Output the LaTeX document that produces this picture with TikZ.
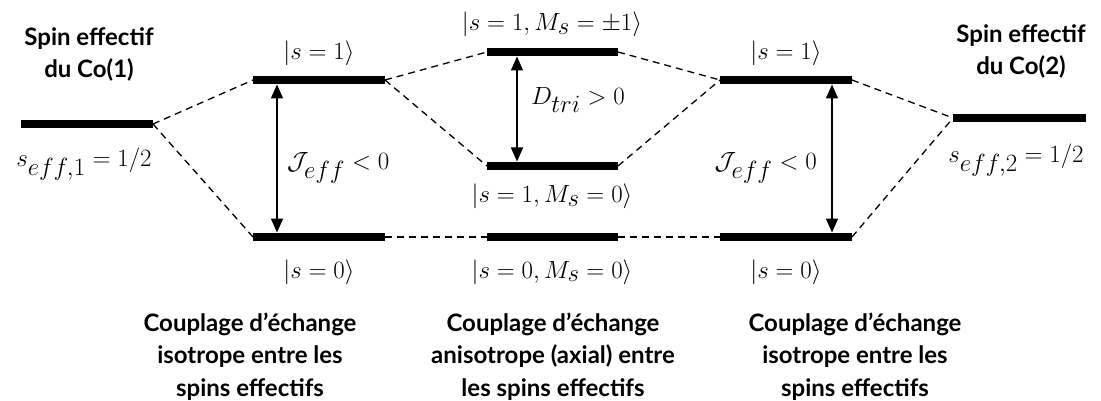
\documentclass[tikz,border=0pt]{standalone}
\usepackage{fontspec}
\setsansfont{Lato}
\DeclareMathSizes{29.5}{29.5}{23}{18}
\usetikzlibrary{arrows.meta}
\begin{document}
\begin{tikzpicture}[x=1pt,y=-1pt,
  level/.style={line width=8.5pt,line cap=butt},
  conn/.style={line width=1.3pt,dash pattern=on 7pt off 5pt},
  gaparrow/.style={{Triangle[length=14pt,width=12pt]}-{Triangle[length=14pt,width=12pt]},line width=1.6pt},
  ket/.style={font=\fontsize{29.5}{35}\selectfont,inner sep=0pt,anchor=base},
  lab/.style={font=\sffamily\bfseries\fontsize{24}{32.5}\selectfont,align=center,inner sep=0pt,anchor=base}]
\useasboundingbox (0,0) rectangle (1101,401);
% level end points
\coordinate (c1l) at (21,124);  \coordinate (c1r) at (153,124);
\coordinate (l1l) at (253,80);  \coordinate (l1r) at (385,80);
\coordinate (l0l) at (253,237); \coordinate (l0r) at (385,237);
\coordinate (mtl) at (487,52);  \coordinate (mtr) at (618,52);
\coordinate (mml) at (487,166); \coordinate (mmr) at (618,166);
\coordinate (mbl) at (487,237); \coordinate (mbr) at (618,237);
\coordinate (r1l) at (720,80);  \coordinate (r1r) at (852,80);
\coordinate (r0l) at (720,237); \coordinate (r0r) at (852,237);
\coordinate (c2l) at (953,118); \coordinate (c2r) at (1086,118);
% levels
\foreach \a/\b in {c1l/c1r,l1l/l1r,l0l/l0r,mtl/mtr,mml/mmr,mbl/mbr,r1l/r1r,r0l/r0r,c2l/c2r}
  \draw[level] (\a) -- (\b);
% dashed connectors
\draw[conn] (c1r) -- (l1l);
\draw[conn] (c1r) -- (l0l);
\draw[conn] (l1r) -- (mtl);
\draw[conn] (l1r) -- (mml);
\draw[conn] (mtr) -- (r1l);
\draw[conn] (mmr) -- (r1l);
\draw[conn] (l0r) -- (mbl);
\draw[conn] (mbr) -- (r0l);
\draw[conn] (r1r) -- (c2l);
\draw[conn] (r0r) -- (c2l);
% gap arrows
\coordinate (la) at (277,84.5);  \coordinate (lb) at (277,232.5);
\coordinate (ma) at (517,56.5);  \coordinate (mb) at (517,161.5);
\coordinate (ra) at (832,84.5);  \coordinate (rb) at (832,232.5);
\draw[gaparrow] (la) -- (lb);
\draw[gaparrow] (ma) -- (mb);
\draw[gaparrow] (ra) -- (rb);
% kets
\node[ket] (k1) at (319,60) {$|s=1\rangle$};
\node[ket] (k2) at (786,60) {$|s=1\rangle$};
\node[ket] (k3) at (552,31) {$|s=1,M_s=\pm1\rangle$};
\node[ket] (k4) at (552,203) {$|s=1,M_s=0\rangle$};
\node[ket] (k5) at (319,278) {$|s=0\rangle$};
\node[ket] (k6) at (786,278) {$|s=0\rangle$};
\node[ket] (k7) at (552,278) {$|s=0,M_s=0\rangle$};
\node[ket,anchor=base west] (dt) at (531,105) {$D_{tri}>0$};
\node[ket,anchor=base west] (j1) at (287,170) {$\mathcal{J}_{eff}<0$};
\node[ket,anchor=base east] (j2) at (817,170) {$\mathcal{J}_{eff}<0$};
\node[ket] (s1) at (84,167) {$s_{eff,1}=1/2$};
\node[ket] (s2) at (1016,163) {$s_{eff,2}=1/2$};
% text labels (anchor = baseline of last line)
\node[lab] (t1) at (89,78) {Spin effectif\\du Co(1)};
\node[lab] (t2) at (1021,75) {Spin effectif\\du Co(2)};
\node[lab] (b1) at (250,396) {Couplage d’échange\\isotrope entre les\\spins effectifs};
\node[lab] (b2) at (553,396) {Couplage d’échange\\anisotrope (axial) entre\\les spins effectifs};
\node[lab] (b3) at (855,396) {Couplage d’échange\\isotrope entre les\\spins effectifs};
\end{tikzpicture}
\end{document}
